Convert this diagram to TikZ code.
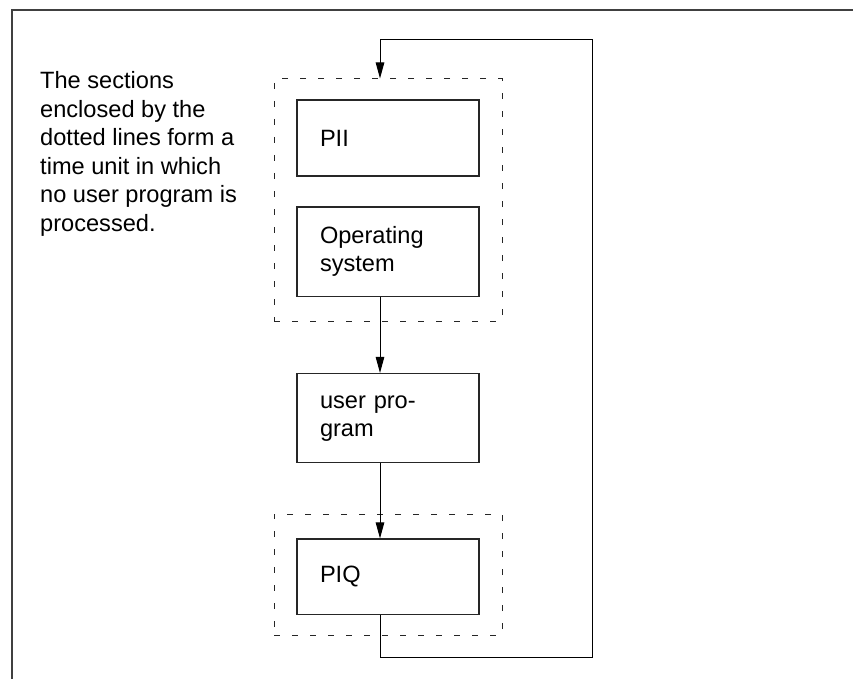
\documentclass[tikz,border=0pt]{standalone}
\usepackage{fontspec}
\setmainfont{Liberation Sans}
\usetikzlibrary{arrows.meta}
\begin{document}
\begin{tikzpicture}[x=1pt,y=-1pt,
  every node/.style={font=\fontsize{23.6}{28}\selectfont},
  stepbox/.style={draw=black!85, line width=1.1pt, rectangle,
    minimum width=182pt, text width=136pt, inner xsep=23pt, inner ysep=0pt,
    align=left},
  groupbox/.style={draw=black!85, line width=1pt, rectangle,
    dash pattern=on 6pt off 12pt, minimum width=228pt, inner sep=0pt},
  conn/.style={draw=black, line width=1pt},
  arr/.style={conn, -{Triangle[length=16pt,width=8.5pt]}},
  frameline/.style={draw=black!75, line width=1.6pt}]
  \useasboundingbox (0,0) rectangle (853,679);

  % page frame (top and left edges)
  \draw[frameline] (12,679) -- (12,10) -- (853,10);

  % explanatory note
  \node[anchor=north west, inner sep=0pt, align=left,
        font=\fontsize{23.6}{28.5}\selectfont] (note) at (40,71.3)
    {The sections\\enclosed by the\\dotted lines form a\\time unit in which\\no user program is\\processed.};

  % dotted enclosures
  \node[groupbox, minimum height=242pt] (group1) at (388,200) {};
  \node[groupbox, minimum height=121pt] (group2) at (388,574.5) {};

  % processing steps
  \node[stepbox, minimum height=76pt]   (pii)  at (388,138)    {PII};
  \node[stepbox, minimum height=89.5pt] (os)   at (388,251.75) {Operating\\system};
  \node[stepbox, minimum height=89.2pt] (user) at (388,418.1)  {user pro-\\gram};
  \node[stepbox, minimum height=75.5pt] (piq)  at (388,576.75) {PIQ};

  % flow line and loop back
  \coordinate (spine) at (380,0);
  \coordinate (loopbl) at (380,657.5);
  \coordinate (loopbr) at (592,657.5);
  \coordinate (looptr) at (592,40);
  \coordinate (looptl) at (380,40);

  \draw[arr] (os.south -| spine) -- (user.north -| spine);
  \draw[arr] (user.south -| spine) -- (piq.north -| spine);
  \draw[arr] (piq.south -| spine) -- (loopbl) -- (loopbr) -- (looptr)
    -- (looptl) -- (group1.north -| spine);
\end{tikzpicture}
\end{document}
